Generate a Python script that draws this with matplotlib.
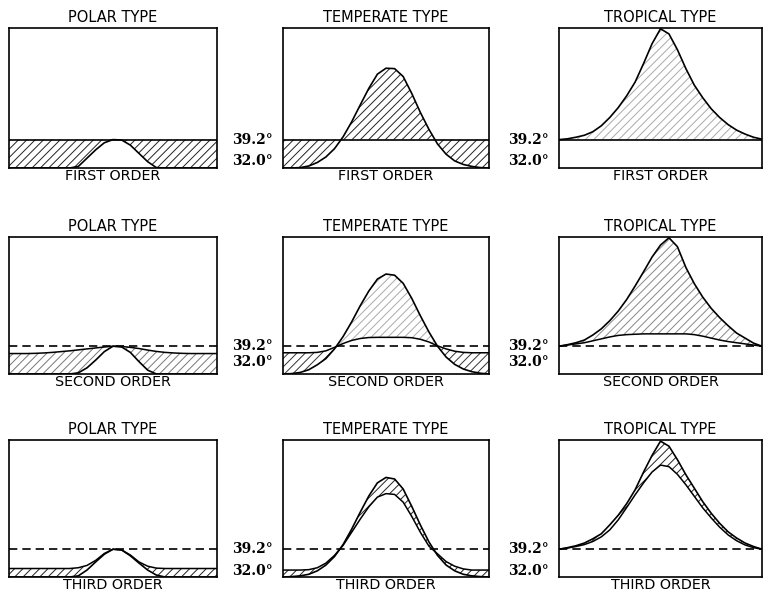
import matplotlib
matplotlib.use("Agg")
import matplotlib.pyplot as plt

# ---------------- data ----------------
months = [0, 0.5, 1, 1.5, 2, 2.5, 3, 3.5, 4, 4.5, 5, 5.5, 6,
          6.5, 7, 7.5, 8, 8.5, 9, 9.5, 10, 10.5, 11, 11.5, 12]

types = ["POLAR TYPE", "TEMPERATE TYPE", "TROPICAL TYPE"]
orders = ["FIRST ORDER", "SECOND ORDER", "THIRD ORDER"]
ref_temp = 39.2
freeze_temp = 32.0
temp_labels = ["39.2°", "32.0°"]

# first order: bottom water stays at 39.2
first_order_bottom = 39.2
polar1_surface = [32.0, 32.0, 32.0, 32.0, 32.0, 32.0, 32.0, 32.0, 32.4, 34.5, 36.6, 38.4, 39.2,
                  39.1, 37.8, 35.7, 33.6, 32.1, 32.0, 32.0, 32.0, 32.0, 32.0, 32.0, 32.0]
temperate1_surface = [32.0, 32.0, 32.1, 32.5, 33.4, 34.8, 36.9, 39.9, 43.7, 48.0, 52.2, 55.8, 57.3,
                      57.2, 55.2, 50.9, 46.1, 41.8, 38.1, 35.5, 33.8, 32.9, 32.4, 32.1, 32.0]
tropical1_surface = [39.2, 39.4, 39.8, 40.3, 41.2, 42.7, 44.8, 47.3, 50.3, 53.8, 58.5, 63.5, 67.3,
                     66.0, 62.0, 57.2, 53.0, 49.8, 47.0, 44.8, 43.0, 41.6, 40.6, 39.8, 39.3]

# second order
polar2_surface = [32.0, 32.0, 32.0, 32.0, 32.0, 32.0, 32.0, 32.0, 32.3, 33.6, 35.6, 37.8, 39.2,
                  39.0, 37.6, 35.2, 33.0, 32.0, 32.0, 32.0, 32.0, 32.0, 32.0, 32.0, 32.0]
polar2_bottom = [37.3, 37.3, 37.3, 37.35, 37.45, 37.6, 37.8, 38.0, 38.25, 38.5, 38.75, 39.0, 39.2,
                 39.15, 38.9, 38.6, 38.2, 37.85, 37.6, 37.45, 37.35, 37.3, 37.3, 37.3, 37.3]
temperate2_surface = [32.0, 32.1, 32.4, 33.1, 34.4, 36.0, 38.5, 41.7, 45.5, 49.7, 53.5, 56.6, 57.9,
                      57.6, 55.5, 51.6, 47.1, 42.9, 39.2, 36.4, 34.5, 33.3, 32.6, 32.2, 32.0]
temperate2_bottom = [37.5, 37.5, 37.5, 37.5, 37.6, 38.0, 38.9, 39.9, 40.7, 41.2, 41.45, 41.5, 41.5,
                     41.5, 41.5, 41.4, 41.0, 40.3, 39.3, 38.5, 37.9, 37.6, 37.5, 37.5, 37.5]
tropical2_surface = [39.2, 39.6, 40.1, 40.8, 42.1, 43.7, 45.8, 48.3, 51.3, 54.8, 58.5, 62.3, 65.4,
                     67.3, 65.0, 59.6, 55.4, 51.9, 49.0, 46.6, 44.5, 42.6, 41.3, 40.0, 39.2]
tropical2_bottom = [39.2, 39.5, 39.8, 40.1, 40.6, 41.1, 41.6, 42.0, 42.2, 42.3, 42.4, 42.4, 42.4,
                    42.4, 42.4, 42.4, 42.2, 41.8, 41.3, 40.8, 40.4, 40.1, 39.8, 39.5, 39.2]

# third order
polar3_surface = [32.0, 32.0, 32.0, 32.0, 32.0, 32.0, 32.0, 32.0, 32.3, 33.8, 35.9, 37.9, 39.2,
                  39.0, 37.5, 35.6, 33.8, 32.5, 32.0, 32.0, 32.0, 32.0, 32.0, 32.0, 32.0]
polar3_bottom = [34.2, 34.2, 34.2, 34.2, 34.2, 34.2, 34.2, 34.2, 34.4, 35.0, 36.3, 38.1, 39.2,
                 39.0, 37.7, 35.9, 34.8, 34.3, 34.2, 34.2, 34.2, 34.2, 34.2, 34.2, 34.2]
temperate3_surface = [32.0, 32.1, 32.3, 32.7, 33.6, 35.1, 37.3, 40.4, 44.4, 48.8, 53.0, 56.4, 57.8,
                      57.4, 54.8, 50.3, 45.5, 41.1, 37.6, 35.1, 33.6, 32.7, 32.3, 32.1, 32.0]
temperate3_bottom = [33.8, 33.8, 33.8, 33.9, 34.4, 35.6, 37.6, 40.2, 43.6, 47.0, 50.2, 52.7, 53.6,
                     53.4, 51.4, 47.7, 43.6, 40.0, 38.0, 36.0, 34.8, 34.1, 33.8, 33.8, 33.8]
tropical3_surface = [39.2, 39.6, 40.1, 40.8, 41.9, 43.2, 45.5, 48.0, 51.0, 54.6, 59.2, 63.5, 67.2,
                     65.9, 62.4, 58.5, 55.0, 51.5, 48.5, 45.9, 43.7, 42.1, 40.8, 39.9, 39.2]
tropical3_bottom = [39.2, 39.5, 39.9, 40.4, 41.2, 42.4, 44.2, 46.8, 50.0, 53.3, 56.4, 59.2, 61.0,
                    60.6, 58.6, 55.9, 52.9, 49.9, 47.3, 44.9, 42.9, 41.4, 40.3, 39.6, 39.2]

surfaces = [[polar1_surface, temperate1_surface, tropical1_surface],
            [polar2_surface, temperate2_surface, tropical2_surface],
            [polar3_surface, temperate3_surface, tropical3_surface]]
bottoms = [[None, None, None],
           [polar2_bottom, temperate2_bottom, tropical2_bottom],
           [polar3_bottom, temperate3_bottom, tropical3_bottom]]

# ---------------- layout / style ----------------
W, H = 763, 595
plt.rcParams["hatch.linewidth"] = 0.7
fig = plt.figure(figsize=(W / 100, H / 100), dpi=100)

col_left = [9, 283, 559]
col_width = [208, 206, 203]
row_top = [28, 237, 440]
row_height = [140, 137, 137]
label32_y = [33.8, 35.0, 33.5]

# (colour of hatch where surface below bottom curve, where surface above)
hatch_colors = [[("#222222", "#222222"), ("#222222", "#222222"), ("#aaaaaa", "#aaaaaa")],
                [("#777777", "#777777"), ("#333333", "#aaaaaa"), ("#888888", "#888888")],
                [("#222222", "#222222"), ("#222222", "#222222"), ("#222222", "#222222")]]

for r in range(3):
    for c in range(3):
        ax = fig.add_axes([col_left[c] / W, 1 - (row_top[r] + row_height[r]) / H,
                           col_width[c] / W, row_height[r] / H])
        ax.set_xlim(months[0], months[-1])
        ax.set_ylim(32, 67.5)
        ax.set_xticks([])
        ax.set_yticks([])
        for s in ax.spines.values():
            s.set_linewidth(1.2)

        surf = surfaces[r][c]
        if r == 0:
            bot = [first_order_bottom] * len(months)
            ax.axhline(ref_temp, color="black", lw=1.2, zorder=3)
        else:
            bot = bottoms[r][c]
            ax.axhline(ref_temp, color="black", lw=1.2, ls=(0, (5, 3)), zorder=3)
            ax.plot(months, bot, color="black", lw=1.1, zorder=4)
        ax.plot(months, surf, color="black", lw=1.2, zorder=4)

        low_col, high_col = hatch_colors[r][c]
        below = [s <= b for s, b in zip(surf, bot)]
        above = [s >= b for s, b in zip(surf, bot)]
        ax.fill_between(months, surf, bot, where=below, interpolate=True,
                        facecolor="none", edgecolor=low_col, linewidth=0,
                        hatch="////", zorder=2)
        ax.fill_between(months, surf, bot, where=above, interpolate=True,
                        facecolor="none", edgecolor=high_col, linewidth=0,
                        hatch="////", zorder=2)

        ax.set_title(types[c], fontsize=10.5, pad=4, family="DejaVu Sans")
        ax.text(0.5, -0.01, orders[r], transform=ax.transAxes, ha="center",
                va="top", fontsize=10.3, family="DejaVu Sans")

        if c > 0:
            for lab, yv in zip(temp_labels, [ref_temp, label32_y[r]]):
                ax.annotate(lab, xy=(0, yv), xycoords=("axes fraction", "data"),
                            xytext=(-7, 0), textcoords="offset points",
                            ha="right", va="center", fontsize=10,
                            family="DejaVu Serif", fontweight="bold",
                            annotation_clip=False)

fig.savefig("out.png", dpi=100)
